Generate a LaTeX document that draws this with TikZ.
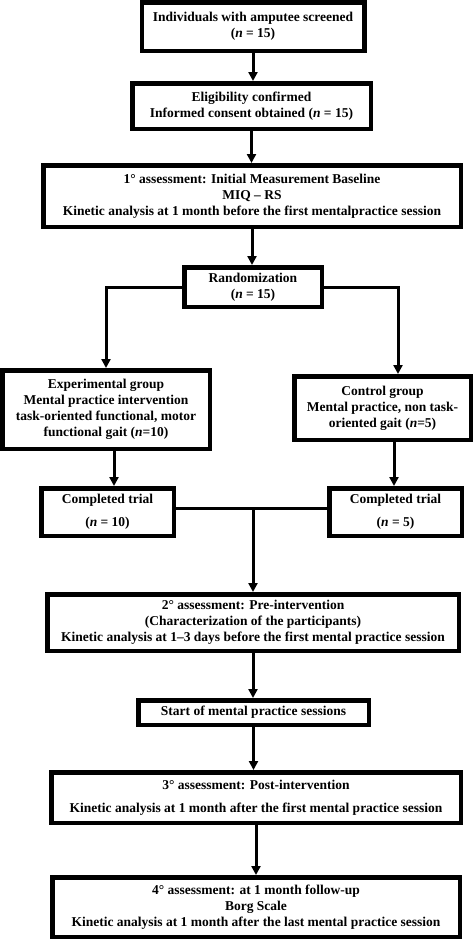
\documentclass[tikz,border=0pt]{standalone}
\usepackage{fontspec}
\setmainfont{Liberation Serif}
\usetikzlibrary{arrows.meta, positioning}
\tikzstyle{flowchart}=[>={Triangle[length=9pt,width=9pt]}]
\tikzstyle{box}=[draw, line width=4.5pt, align=center, inner sep=0pt, font=\fontsize{13.5}{16}\selectfont\bfseries]
\tikzstyle{link}=[line width=3pt]

\begin{document}
\begin{tikzpicture}[flowchart]
  \useasboundingbox (0,0) rectangle (473pt,-940pt);
  \node[box, minimum width=222.5pt, minimum height=48.5pt] (screened) at (253pt,-26.5pt) {Individuals with amputee screened\\(\textit{n} = 15)};
  \node[box, minimum width=238.5pt, minimum height=45.5pt] (eligible) [below=28pt of screened, xshift=-1.5pt] {Eligibility confirmed\\Informed consent obtained (\textit{n} = 15)};
  \node[box, minimum width=417.5pt, minimum height=61.5pt] (baseline) [below=32pt of eligible, xshift=0.5pt] {1° assessment: Initial Measurement Baseline\\MIQ – RS\\Kinetic analysis at 1 month before the first mentalpractice session};
  \node[box, minimum width=137.5pt, minimum height=39.5pt] (rand) [below=36pt of baseline, xshift=1pt] {Randomization\\(\textit{n} = 15)};
  \node[box, minimum width=207.5pt, minimum height=78.5pt] (exp) [below=59pt of rand, xshift=-147pt] {Experimental group\\Mental practice intervention\\task-oriented functional, motor\\functional gait (\textit{n}=10)};
  \node[box, minimum width=176.5pt, minimum height=63.5pt] (ctrl) [below=65pt of rand, xshift=129.5pt] {Control group\\Mental practice, non task-\\oriented gait (\textit{n}=5)};
  \node[box, minimum width=132.5pt, minimum height=47.5pt] (doneexp) [below=35pt of exp, xshift=1.5pt] {Completed trial\\[7pt](\textit{n} = 10)};
  \node[box, minimum width=132.5pt, minimum height=47.5pt] (donectrl) [below=44pt of ctrl, xshift=13pt] {Completed trial\\[7pt](\textit{n} = 5)};
  \node[box, minimum width=411.5pt, minimum height=56.5pt] (pre) [below=54pt of doneexp, xshift=145.5pt] {2° assessment: Pre-intervention\\(Characterization of the participants)\\Kinetic analysis at 1–3 days before the first mental practice session};
  \node[box, minimum width=230.5pt, minimum height=24.5pt] (start) [below=45pt of pre, xshift=0.5pt] {Start of mental practice sessions};
  \node[box, minimum width=409.5pt, minimum height=50.5pt] (post) [below=43pt of start, xshift=2.5pt] {3° assessment: Post-intervention\\[7pt]Kinetic analysis at 1 month after the first mental practice session};
  \node[box, minimum width=407.5pt, minimum height=59.5pt] (follow) [below=50pt of post] {4° assessment: at 1 month follow-up\\Borg Scale\\Kinetic analysis at 1 month after the last mental practice session};
  \coordinate (merge) at ([yshift=4pt]doneexp.east -| pre.north);
  \draw[link,->] (screened) -- (screened |- eligible.north);
  \draw[link,->] (eligible) -- (eligible |- baseline.north);
  \draw[link,->] (baseline) -- (baseline |- rand.north);
  \draw[link,->] (rand.west) -| (exp.north);
  \draw[link,->] (rand.east) -| ([xshift=15.5pt]ctrl.north);
  \draw[link,->] ([xshift=8pt]exp.south) -- ([xshift=8pt]exp.south |- doneexp.north);
  \draw[link,->] ([xshift=11.5pt]ctrl.south) -- ([xshift=11.5pt]ctrl.south |- donectrl.north);
  \draw[link] ([yshift=4pt]doneexp.east) -- ([yshift=4pt]donectrl.west);
  \draw[link,->] (merge) -- (merge |- pre.north);
  \draw[link,->] (pre) -- (pre |- start.north);
  \draw[link,->] (start) -- (start |- post.north);
  \draw[link,->] (post) -- (post |- follow.north);
\end{tikzpicture}
\end{document}
